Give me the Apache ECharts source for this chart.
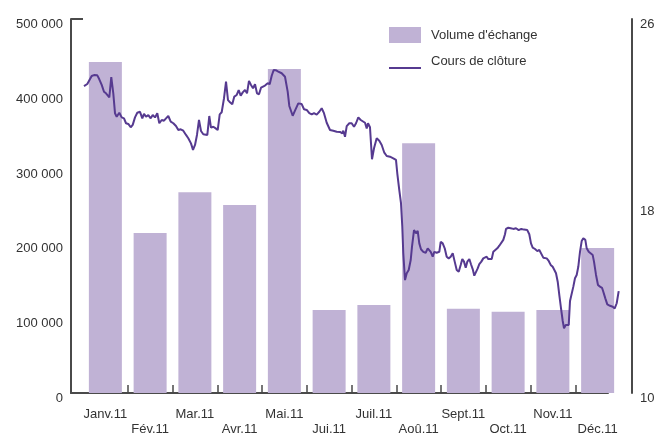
<!DOCTYPE html>
<html>
<head>
<meta charset="utf-8">
<script src="https://cdn.jsdelivr.net/npm/echarts@6/dist/echarts.min.js"></script>
<style>html,body{margin:0;padding:0;background:#fff}#c{width:655px;height:435px}</style>
</head>
<body>
<div id="c"></div>
<script>
const months = ['Janv.11','Fév.11','Mar.11','Avr.11','Mai.11','Jui.11','Juil.11','Aoû.11','Sept.11','Oct.11','Nov.11','Déc.11'];
const volume = [442500, 214000, 268500, 251500, 433000, 111000, 117500, 334000, 112500, 108500, 111000, 194000];
const volumeTicks = [0, 100000, 200000, 300000, 400000, 500000];
const priceTicks = [10, 18, 26];
// closing price: position in months (0 = start of Jan) and price
const closeMonth = [0.022,0.096,0.194,0.246,0.284,0.320,0.364,0.418,0.469,0.514,0.543,0.588,0.632,0.677,0.715,0.753,0.811,0.865,0.916,0.961,
1.012,1.066,1.111,1.162,1.213,1.274,1.325,1.363,1.408,1.459,1.513,1.558,1.609,1.660,1.705,1.759,1.810,1.855,1.906,1.960,
2.018,2.078,2.130,2.183,2.241,2.302,2.353,2.413,2.458,2.503,2.547,2.592,2.637,2.688,2.726,2.778,2.822,2.860,2.912,2.965,
3.010,3.055,3.099,3.151,3.196,3.240,3.285,3.336,3.381,3.435,3.479,3.524,3.569,3.620,3.665,3.709,3.754,3.799,3.844,3.888,3.933,3.978,
4.022,4.067,4.127,4.172,4.217,4.261,4.306,4.364,4.440,4.514,4.543,4.574,4.610,4.686,4.737,4.811,4.887,4.939,4.999,
5.057,5.111,5.162,5.222,5.280,5.334,5.385,5.446,5.520,5.593,5.669,5.743,5.794,5.817,5.855,5.893,5.951,
6.004,6.056,6.101,6.152,6.206,6.250,6.302,6.340,6.369,6.413,6.458,6.503,6.563,6.621,6.675,6.733,6.787,6.860,6.934,6.994,
7.023,7.068,7.106,7.135,7.157,7.196,7.234,7.278,7.323,7.352,7.397,7.441,7.479,7.515,7.553,7.604,7.658,7.703,7.738,7.770,7.815,7.850,7.904,7.962,7.993,
8.038,8.083,8.127,8.172,8.217,8.262,8.306,8.351,8.396,8.440,8.476,8.514,8.552,8.588,8.633,8.670,8.708,8.744,8.782,8.820,8.856,8.901,8.945,8.983,
9.021,9.057,9.095,9.133,9.169,9.213,9.258,9.303,9.347,9.392,9.430,9.453,9.504,9.557,9.616,9.676,9.736,9.794,9.855,9.928,9.973,
10.011,10.049,10.101,10.152,10.197,10.241,10.286,10.324,10.362,10.407,10.451,10.496,10.532,10.570,10.608,10.644,10.682,10.720,10.749,10.787,10.823,10.854,10.883,10.921,10.957,10.994,
11.032,11.068,11.106,11.144,11.180,11.225,11.256,11.301,11.345,11.390,11.419,11.464,11.508,11.553,11.598,11.627,11.672,11.716,11.777,11.837,11.882,11.926,11.971];
const closePrice = [23.13,23.22,23.56,23.60,23.53,23.59,23.42,23.18,22.89,22.82,22.85,22.65,23.51,22.82,21.97,21.82,21.99,21.79,21.75,21.54,
21.51,21.37,21.47,21.79,21.99,22.03,21.75,21.94,21.82,21.89,21.75,21.89,21.79,21.97,21.54,21.68,21.65,21.75,21.85,21.61,
21.54,21.42,21.25,21.28,21.22,21.04,20.90,20.68,20.40,20.61,21.04,21.68,21.21,21.07,21.15,21.04,21.85,21.35,21.39,21.32,
21.25,21.92,22.01,22.61,23.32,22.53,22.44,22.35,22.68,22.75,22.96,22.72,22.86,22.96,22.82,23.35,23.18,23.04,23.21,22.82,22.78,23.06,
23.04,23.15,23.25,23.21,23.57,23.82,23.81,23.75,23.68,23.53,23.52,22.89,22.28,21.86,22.08,22.39,22.36,22.14,22.11,
21.97,21.92,21.97,21.91,22.03,22.18,21.97,21.56,21.25,21.22,21.18,21.17,21.11,21.22,20.96,21.42,21.54,
21.54,21.39,21.54,21.79,21.68,21.61,21.56,21.32,21.54,21.37,20.00,20.47,20.90,20.79,20.61,20.28,20.14,20.11,20.04,19.97,
19.40,18.68,18.12,17.11,15.98,14.83,15.12,15.26,15.69,16.26,16.97,16.83,16.94,16.40,16.15,16.04,16.00,16.19,16.26,16.04,15.83,16.04,16.00,16.04,16.47,
16.40,16.19,15.83,15.76,15.83,15.98,15.62,15.26,15.19,15.48,15.73,15.62,15.36,15.62,15.73,15.51,15.30,15.02,14.98,15.33,15.51,15.62,15.76,15.69,
15.83,15.73,15.79,15.73,16.04,16.12,16.19,16.30,16.36,16.55,16.79,17.02,17.07,17.05,17.02,17.05,16.97,17.02,16.99,16.97,16.79,
16.40,16.22,16.16,16.07,16.12,16.07,15.79,15.79,15.76,15.65,15.48,15.40,15.36,15.12,14.76,14.19,13.62,13.08,12.77,12.91,12.84,12.91,13.94,13.98,14.55,14.91,
15.05,15.40,16.04,16.50,16.62,16.55,16.19,16.04,15.98,15.90,15.62,15.05,14.62,14.55,14.50,14.33,14.05,13.79,13.73,13.69,13.62,13.84,14.36];

const FONT = 'Liberation Sans';
const TXT = '#333';
const AX = '#4a4a4a';
const BAR = '#c0b2d5';
const LINE = '#563a90';

const chart = echarts.init(document.getElementById('c'), null, {renderer: 'canvas'});
chart.setOption({
  animation: false,
  textStyle: {fontFamily: FONT},
  grid: [
    {left: 83, right: 35, top: 19, bottom: 42, outerBoundsMode: 'none', containLabel: false},
    {left: 71, right: 47, top: 19, bottom: 42, outerBoundsMode: 'none', containLabel: false},
    {left: 127.75, right: 79.75, top: 19, bottom: 42, outerBoundsMode: 'none', containLabel: false}
  ],
  legend: {
    orient: 'vertical', left: 389, top: 27, padding: 0, itemWidth: 32, itemHeight: 16, itemGap: 10,
    textStyle: {fontFamily: FONT, fontSize: 13, color: TXT, padding: [0, 0, 0, 5]},
    data: [
      {name: "Volume d'échange", icon: 'rect'},
      {name: 'Cours de clôture', icon: 'path://M0,0L0.05,0L0.05,0.05Z M0,14L32,14L32,16L0,16Z'}
    ]
  },
  xAxis: [
    {
      type: 'category', gridIndex: 0, data: months, boundaryGap: true,
      axisLine: {show: false}, axisTick: {show: false},
      axisLabel: {
        interval: 0, margin: 14, fontFamily: FONT, fontSize: 13, color: TXT, lineHeight: 15,
        formatter: function (v, i) { return i % 2 ? '\n' + v : v; }
      }
    },
    {type: 'value', gridIndex: 0, min: 0, max: 12, show: false},
    {
      type: 'value', gridIndex: 1, min: 0, max: 1,
      axisLine: {show: true, lineStyle: {color: AX, width: 2}},
      axisTick: {show: false}, axisLabel: {show: false}, splitLine: {show: false}
    },
    {
      // inner month boundaries (Feb..Dec starts)
      type: 'value', gridIndex: 2, min: 1, max: 11, interval: 1,
      axisLine: {show: false}, axisLabel: {show: false}, splitLine: {show: false},
      axisTick: {show: true, inside: true, length: 8, lineStyle: {color: AX, width: 1.5}}
    }
  ],
  yAxis: [
    {
      type: 'value', gridIndex: 0, min: volumeTicks[0], max: volumeTicks[volumeTicks.length - 1], interval: 100000,
      axisLine: {show: false}, axisTick: {show: false}, splitLine: {show: false},
      axisLabel: {
        margin: 20, fontFamily: FONT, fontSize: 13, color: TXT, verticalAlign: 'top', lineHeight: 11,
        formatter: function (v) { return v === 0 ? '0' : (v / 1000) + ' 000'; }
      }
    },
    {
      type: 'value', gridIndex: 0, position: 'right', offset: 12,
      min: priceTicks[0], max: priceTicks[priceTicks.length - 1], interval: 8,
      axisLine: {show: true, lineStyle: {color: AX, width: 2}},
      axisTick: {show: false}, splitLine: {show: false},
      axisLabel: {margin: 8, fontFamily: FONT, fontSize: 13, color: TXT, verticalAlign: 'top', lineHeight: 11}
    },
    {
      type: 'value', gridIndex: 1, min: 0, max: 1, interval: 1,
      axisLine: {show: true, lineStyle: {color: AX, width: 2}},
      axisTick: {show: true, inside: true, length: 12, lineStyle: {color: AX, width: 2}},
      axisLabel: {show: false}, splitLine: {show: false}
    },
    {type: 'value', gridIndex: 2, show: false}
  ],
  series: [
    {
      name: "Volume d'échange", type: 'bar', xAxisIndex: 0, yAxisIndex: 0,
      data: volume, barWidth: 33, itemStyle: {color: BAR}
    },
    {
      name: 'Cours de clôture', type: 'line', xAxisIndex: 1, yAxisIndex: 1,
      data: closeMonth.map(function (m, i) { return [m, closePrice[i]]; }),
      showSymbol: false, symbol: 'none', itemStyle: {color: LINE},
      lineStyle: {color: LINE, width: 2}, z: 3
    }
  ]
});
</script>
</body>
</html>
